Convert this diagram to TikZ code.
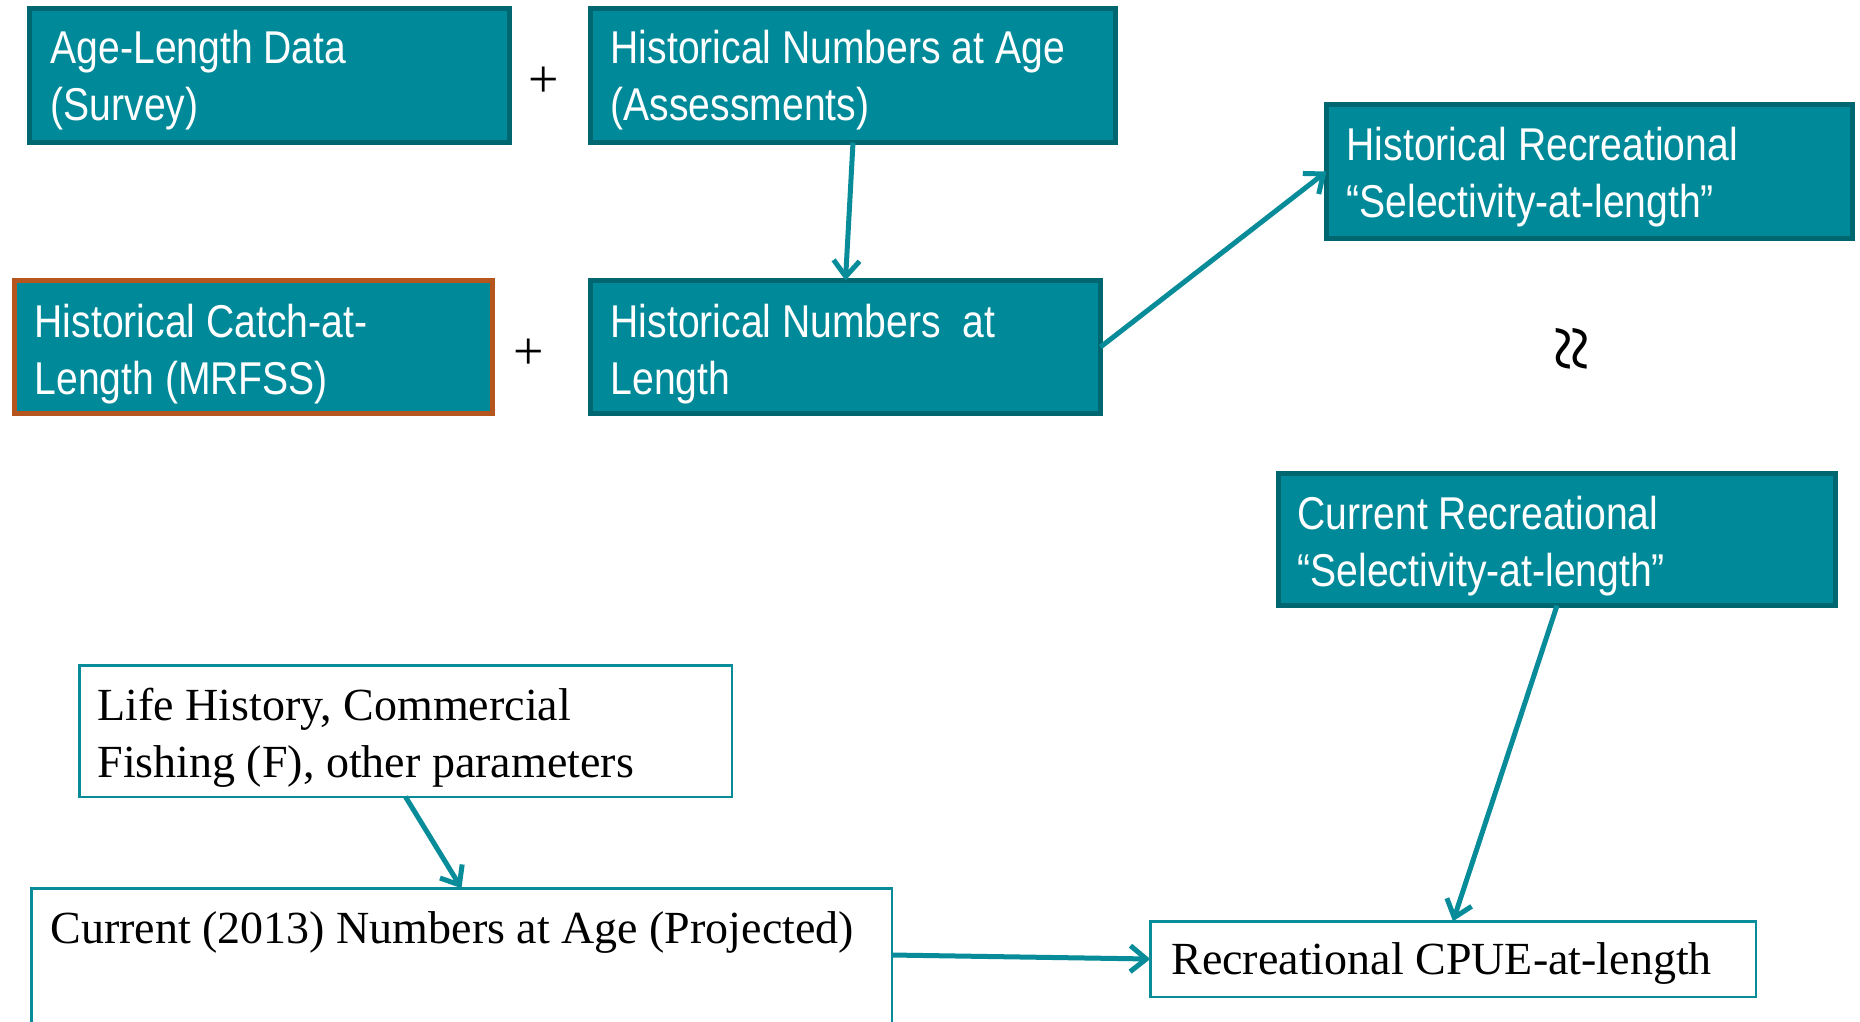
\documentclass[tikz,border=0pt]{standalone}
\usepackage{fontspec}
\usetikzlibrary{arrows.meta,calc}
\newfontfamily\headfont[FakeStretch=0.85]{Liberation Sans}
\newfontfamily\bodyfont{Liberation Serif}
\definecolor{tealfill}{RGB}{0,138,153}
\definecolor{tealdark}{RGB}{0,102,112}
\definecolor{tealline}{RGB}{8,140,154}
\definecolor{rustline}{RGB}{181,86,30}
\begin{document}
\begin{tikzpicture}[x=1pt,y=-1pt,
  box/.style={anchor=north west, inner sep=0pt, outer sep=0pt},
  filledbox/.style={box, draw=tealdark, line width=5pt, fill=tealfill},
  catchbox/.style={box, draw=rustline, line width=5pt, fill=tealfill},
  plainbox/.style={box, draw=tealline, line width=2.5pt, fill=white},
  headtext/.style={anchor=base west, inner sep=0pt, text=white,
    font=\headfont\fontsize{46}{57}\selectfont},
  bodytext/.style={anchor=base west, inner sep=0pt, text=black,
    font=\bodyfont\fontsize{46}{57}\selectfont},
  sign/.style={inner sep=0pt, font=\bodyfont\fontsize{54}{54}\selectfont},
  flow/.style={draw=tealline, line width=5pt, -{Straight Barb[length=16pt,width=26pt]}},
]
\useasboundingbox (0,0) rectangle (1860,1021);
\fill[white] (0,0) rectangle (1860,1021);
\clip (0,0) rectangle (1860,1021);

% historical inputs (upper part)
\node[filledbox, minimum width=480pt, minimum height=134pt] (agelen) at (29.5,8.5) {};
\node[filledbox, minimum width=525pt, minimum height=134pt] (numage) at (590.5,8.5) {};
\node[catchbox,  minimum width=478pt, minimum height=133pt] (catch)  at (14.5,280.5) {};
\node[filledbox, minimum width=510pt, minimum height=133pt] (numlen) at (590.5,280.5) {};
\node[filledbox, minimum width=526pt, minimum height=134pt] (histsel) at (1326.5,104.5) {};
\node[filledbox, minimum width=557pt, minimum height=132pt] (cursel)  at (1278.5,473.5) {};

\node[headtext] (agelenT) at ($(agelen.north west)+(21,55)$)
  {\parbox[t]{450pt}{Age-Length Data\\(Survey)}};
\node[headtext] (numageT) at ($(numage.north west)+(20,55)$)
  {\parbox[t]{500pt}{Historical Numbers at Age\\(Assessments)}};
\node[headtext] (catchT) at ($(catch.north west)+(20,57)$)
  {\parbox[t]{450pt}{Historical Catch-at-\\Length (MRFSS)}};
\node[headtext] (numlenT) at ($(numlen.north west)+(20,57)$)
  {\parbox[t]{480pt}{Historical Numbers\ \ at\\Length}};
\node[headtext] (histselT) at ($(histsel.north west)+(20,56)$)
  {\parbox[t]{500pt}{Historical Recreational\\“Selectivity-at-length”}};
\node[headtext] (curselT) at ($(cursel.north west)+(19,56)$)
  {\parbox[t]{530pt}{Current Recreational\\“Selectivity-at-length”}};

\node[sign] (plusA) at (544,82) {+};
\node[sign] (plusB) at (529,354) {+};
\node[sign, rotate=90, font=\bodyfont\fontsize{84}{84}\selectfont] (approx) at (1578,348) {≈};

% current-year projection (lower part)
\node[plainbox, minimum width=652.5pt, minimum height=131.5pt] (life) at (79.25,665.25) {};
\node[plainbox, minimum width=860.5pt, minimum height=160pt] (curnum) at (31.25,888.25) {};
\node[plainbox, minimum width=605.5pt, minimum height=75.5pt] (cpue) at (1150.25,921.25) {};

\node[bodytext] (lifeT) at ($(life.north west)+(18,55)$)
  {\parbox[t]{620pt}{Life History, Commercial\\Fishing (F), other parameters}};
\node[bodytext] (curnumT) at ($(curnum.north west)+(19,55)$)
  {Current (2013) Numbers at Age (Projected)};
\node[bodytext] (cpueT) at ($(cpue.north west)+(21,53)$)
  {Recreational CPUE-at-length};

% connectors
\draw[flow] (numage.south) -- (numlen.north);
\draw[flow] (numlen.east) -- (histsel.west);
\draw[flow] (cursel.south) -- (cpue.north);
\draw[flow] (life.south) -- (curnum.north);
\draw[flow] ($(curnum.east |- cpue.west)+(0,-4)$) -- (cpue.west);
\end{tikzpicture}
\end{document}
